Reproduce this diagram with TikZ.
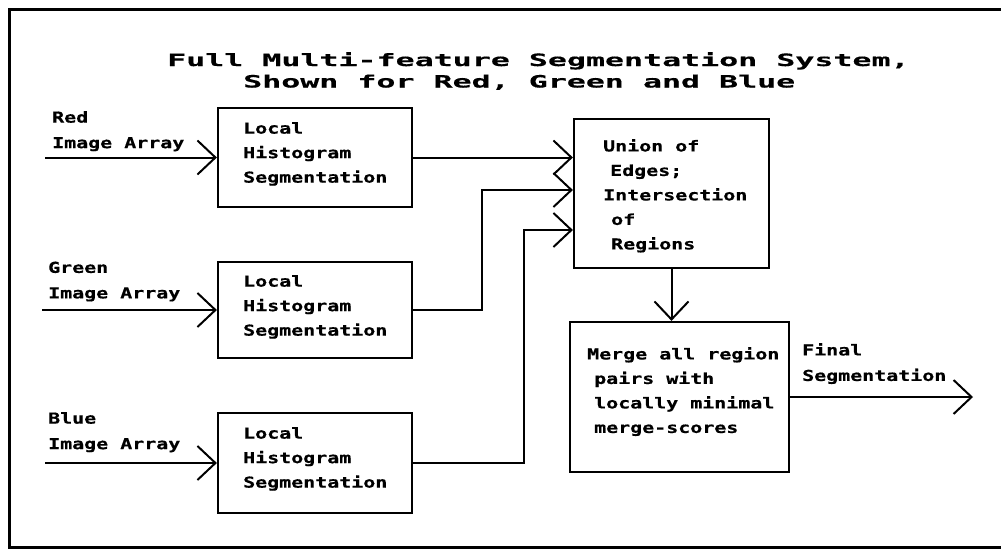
\documentclass[tikz,border=0pt]{standalone}
\usepackage{fontspec}
\usetikzlibrary{arrows.meta,calc}
\newfontfamily\bodyfont{DejaVu Sans Mono}[FakeStretch=1.33, FakeBold=0.6]
\newfontfamily\headfont{DejaVu Sans Mono}[FakeStretch=1.86, FakeBold=0.4]

\tikzset{
  blk/.style={draw, line width=2.2pt, inner sep=0pt},
  txt/.style={anchor=north west, inner sep=0pt, align=left,
              font=\bodyfont\bfseries\fontsize{15}{24.5}\selectfont},
  lbl/.style={txt, font=\bodyfont\bfseries\fontsize{15}{25.5}\selectfont},
  conn/.style={line width=2pt},
  arr/.style={conn, -{Straight Barb[length=18pt,width=34pt,line width=2pt]}},
}

\begin{document}
\begin{tikzpicture}[x=1pt,y=-1pt]
  \useasboundingbox (0,0) rectangle (1001,549);

  % outer frame (open at the right)
  \draw[line width=3pt] (1001,9) -- (9,9) -- (9,547) -- (1001,547);

  % title
  \node[anchor=north west, inner sep=0pt, align=left,
        font=\headfont\bfseries\fontsize{17}{21.5}\selectfont] (title) at (167,52)
    {Full Multi-feature Segmentation System,\\\hspace*{76pt}Shown for Red, Green and Blue};

  % processing boxes
  \node[blk, minimum width=194pt, minimum height=99pt]  (r) at (315,157.5) {};
  \node[blk, minimum width=194pt, minimum height=96pt]  (g) at (315,310) {};
  \node[blk, minimum width=194pt, minimum height=100pt] (b) at (315,463) {};
  \node[blk, minimum width=195pt, minimum height=149pt] (u) at (671.5,193.5) {};
  \node[blk, minimum width=219pt, minimum height=150pt] (m) at (679.5,397) {};

  % box texts
  \node[txt] (rt) at (243,122) {Local\\Histogram\\Segmentation};
  \node[txt] (gt) at (243,275) {Local\\Histogram\\Segmentation};
  \node[txt] (bt) at (243,427) {Local\\Histogram\\Segmentation};
  \node[txt] (ut) at (603,139)
    {Union of\\\hspace*{7pt}Edges;\\Intersection\\\hspace*{8pt}of\\\hspace*{8pt}Regions};
  \node[txt] (mt) at (587,347)
    {Merge all region\\\hspace*{7pt}pairs with\\\hspace*{7pt}locally minimal\\\hspace*{7pt}merge-scores};

  % input / output labels
  \node[lbl] (rl) at (52,111)   {Red\\Image Array};
  \node[lbl] (gl) at (48,261.5) {Green\\Image Array};
  \node[lbl] (bl) at (48,412)   {Blue\\Image Array};
  \node[lbl] (fl) at (802,343)  {Final\\Segmentation};

  % free ends and junctions
  \coordinate (rin) at (45,157.5);
  \coordinate (gin) at (42,310);
  \coordinate (bin) at (45,463);
  \coordinate (gj)  at (482,190);
  \coordinate (bj)  at (524,230);
  \coordinate (out) at (973,397);

  % connectors
  \draw[arr] (rin) -- (r.west);
  \draw[arr] (gin) -- (g.west);
  \draw[arr] (bin) -- (b.west);
  \draw[arr] (r.east) -- (r.east -| u.west);
  \draw[arr] (g.east) -| (gj) -- (gj -| u.west);
  \draw[arr] (b.east) -| (bj) -- (bj -| u.west);
  \draw[arr] (u.south) -- (u.south |- m.north);
  \draw[arr] (m.east) -- (out);
\end{tikzpicture}
\end{document}
